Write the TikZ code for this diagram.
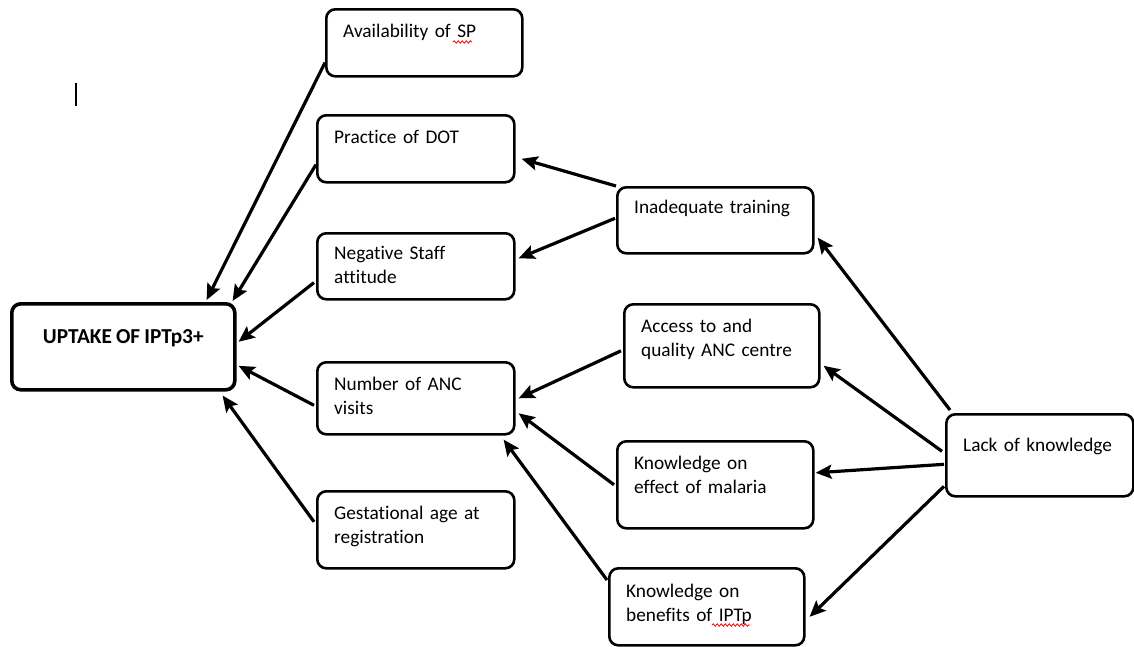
\documentclass[tikz,border=0pt]{standalone}
\usepackage{fontspec}
\setmainfont{Carlito}[Ligatures=NoCommon, WordSpace=0.85]
\usetikzlibrary{arrows.meta, decorations.pathmorphing}

\begin{document}
\begin{tikzpicture}[
    x=1pt, y=-1pt,
    box/.style={draw, line width=2.6pt, rounded corners=9pt, inner sep=0pt,
        anchor=north west, minimum width=196pt, minimum height=#1},
    box/.default=67pt,
    lbl/.style={anchor=base west, xshift=18pt, yshift=-#1, align=left,
        text width=178pt, inner sep=0pt, font=\fontsize{19.3}{24.5}\selectfont},
    lbl/.default=29pt,
    link/.style={line width=3.2pt, -{Stealth[length=16pt,width=14pt,inset=3pt]}},
    wave/.style={red, line width=0.8pt, decorate,
        decoration={snake, amplitude=1.2pt, segment length=4pt}}
]

\useasboundingbox (0,0) rectangle (1134,646);

% =========================
% OUTCOME
% =========================
\node[box=86pt, line width=3.6pt, minimum width=223pt] (uptake) at (10,302)
    [label={[anchor=base, yshift=-41pt, font=\bfseries\fontsize{21.3}{24}\selectfont]north:UPTAKE OF IPTp3+}] {};

% =========================
% DIRECT FACTORS
% =========================
\node[box] (avail) at (325,8)
    [label={[lbl]north west:Availability of SP}] {};
\node[box, minimum width=197pt] (practice) at (316,114)
    [label={[lbl]north west:Practice of DOT}] {};
\node[box=66pt, minimum width=197pt] (negative) at (316,232)
    [label={[lbl=27pt]north west:Negative Staff\\attitude}] {};
\node[box=72pt, minimum width=197pt] (number) at (316,361)
    [label={[lbl]north west:Number of ANC\\visits}] {};
\node[box=77pt, minimum width=197pt] (gest) at (316,490)
    [label={[lbl]north west:Gestational age at\\registration}] {};

% =========================
% UNDERLYING FACTORS
% =========================
\node[box=66pt] (training) at (616,186)
    [label={[lbl=27pt]north west:Inadequate training}] {};
\node[box=83pt, minimum width=195pt] (access) at (623,303)
    [label={[lbl]north west:Access to and\\quality ANC centre}] {};
\node[box=87pt] (effect) at (616,440)
    [label={[lbl]north west:Knowledge on\\effect of malaria}] {};
\node[box=77pt, minimum width=195pt] (benefits) at (608,567)
    [label={[lbl=30pt]north west:Knowledge on\\benefits of IPTp}] {};
\node[box=82pt, minimum width=187pt] (lack) at (945,413)
    [label={[lbl=38pt]north west:Lack of knowledge}] {};

% spell-check waves and stray cursor mark
\draw[wave] (453,42) -- (472,42);
\draw[wave] (712,625) -- (750,625);
\draw[line width=1.2pt] (76,83) -- (76,106);

% =========================
% ARROWS INTO UPTAKE
% =========================
\draw[link] ([yshift=15pt]avail.south west) -- ([shift={(-30pt,2pt)}]uptake.north east);
\draw[link] ([yshift=19pt]practice.south west) -- ([shift={(-4pt,1pt)}]uptake.north east);
\draw[link] ([shift={(-2pt,18pt)}]negative.south west) -- ([shift={(2pt,5pt)}]uptake.east);
\draw[link] ([shift={(-2pt,-7pt)}]number.west) -- ([shift={(2pt,-19pt)}]uptake.east);
\draw[link] ([shift={(-2pt,8pt)}]gest.west) -- ([shift={(-14pt,-4pt)}]uptake.south east);

% =========================
% ARROWS INTO DIRECT FACTORS
% =========================
\draw[link] (training.north west) -- ([shift={(6pt,-10pt)}]practice.east);
\draw[link] ([shift={(-1pt,2pt)}]training.west) -- ([shift={(3pt,8pt)}]negative.east);
\draw[link] ([shift={(-2pt,-5pt)}]access.west) -- ([xshift=3pt]number.east);
\draw[link] ([xshift=-2pt]effect.west) -- ([shift={(3pt,-15pt)}]number.east);
\draw[link] ([shift={(-1pt,-13pt)}]benefits.north west) -- ([shift={(-12pt,-4pt)}]number.south east);

% =========================
% ARROWS FROM LACK OF KNOWLEDGE
% =========================
\draw[link] ([shift={(5pt,3pt)}]lack.north west) -- ([shift={(3pt,17pt)}]training.south east);
\draw[link] ([shift={(-3pt,4pt)}]lack.west) -- ([shift={(3pt,-20pt)}]access.east);
\draw[link] ([shift={(-1pt,-9pt)}]lack.west) -- ([shift={(1pt,12pt)}]effect.east);
\draw[link] ([shift={(-1pt,-31pt)}]lack.west) -- ([shift={(4pt,-10pt)}]benefits.east);
\end{tikzpicture}
\end{document}
